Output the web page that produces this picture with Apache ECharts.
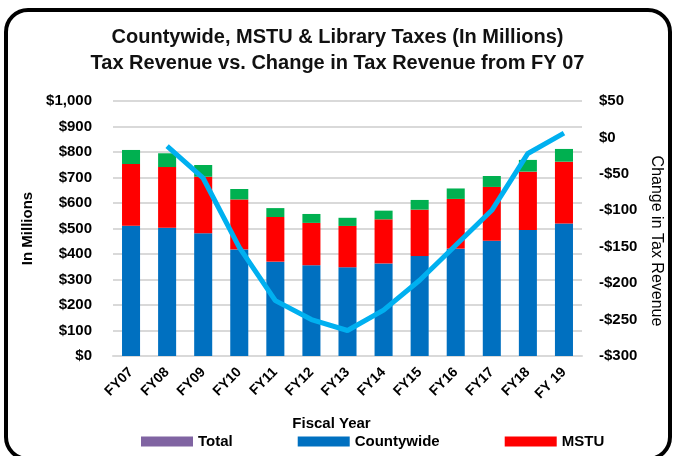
<!DOCTYPE html>
<html>
<head>
<meta charset="utf-8">
<script src="https://cdn.jsdelivr.net/npm/echarts@6/dist/echarts.min.js"></script>
<style>
  html, body { margin: 0; padding: 0; background: #fff; }
  #chart { width: 675px; height: 456px; }
</style>
</head>
<body>
<div id="chart"></div>
<script>
// fiscal years
const years = ['FY07', 'FY08', 'FY09', 'FY10', 'FY11', 'FY12', 'FY13', 'FY14', 'FY15', 'FY16', 'FY17', 'FY18', 'FY 19']
// tax revenue, millions
const countywide = [511, 503, 481, 418, 370, 356, 348, 363, 392, 421, 452, 494, 520]
const mstu = [242, 238, 222, 196, 175, 166, 162, 173, 182, 195, 211, 229, 242]
const library = [55, 54, 46, 41, 35, 35, 32, 34, 38, 41, 43, 46, 50]
// change in tax revenue from FY 07
const change = [null, -12, -56, -151, -224, -250, -265, -237, -196, -148, -100, -22, 6]

const font = "'Liberation Sans', Arial, sans-serif"
const chart = echarts.init(document.getElementById('chart'))

const option = {
  backgroundColor: '#fff',
  animation: false,
  textStyle: { fontFamily: font, color: '#000' },
  title: {
    text: 'Countywide, MSTU & Library Taxes (In Millions)\nTax Revenue vs. Change in Tax Revenue from FY 07',
    left: 'center',
    top: 19,
    textStyle: { fontFamily: font, fontSize: 20, fontWeight: 'bold', color: '#111', lineHeight: 26 }
  },
  graphic: [{
    type: 'rect',
    shape: { x: 6, y: 10, width: 664, height: 449, r: 22 },
    style: { fill: null, stroke: '#000', lineWidth: 4 },
    silent: true
  }],
  legend: {
    data: ['Total', 'Countywide', 'MSTU'],
    left: 136,
    top: 429,
    icon: 'rect',
    itemWidth: 52,
    itemHeight: 10,
    itemGap: 65,
    textStyle: { fontFamily: font, fontSize: 15, fontWeight: 'bold', color: '#000' }
  },
  grid: { left: 113, right: 93, top: 101, bottom: 100 },
  xAxis: {
    type: 'category',
    data: years,
    name: 'Fiscal Year',
    nameLocation: 'middle',
    nameGap: 60,
    nameTextStyle: { fontSize: 15, fontWeight: 'bold', color: '#000', padding: [0, 32, 0, 0] },
    axisLine: { lineStyle: { color: '#d9d9d9', width: 2 } },
    axisTick: { show: false },
    axisLabel: { interval: 0, rotate: 45, margin: 14, fontSize: 14, fontWeight: 'bold', color: '#000' }
  },
  yAxis: [{
    type: 'value',
    min: 0,
    max: 1000,
    interval: 100,
    name: 'In Millions',
    nameLocation: 'middle',
    nameGap: 78,
    nameTextStyle: { fontSize: 15, fontWeight: 'bold', color: '#000' },
    axisLine: { show: false },
    axisTick: { show: false },
    splitLine: { lineStyle: { color: '#d9d9d9', width: 2 } },
    axisLabel: {
      margin: 21, fontSize: 15, fontWeight: 'bold', color: '#000',
      formatter: v => '$' + v.toLocaleString('en-US')
    }
  }, {
    type: 'value',
    min: -300,
    max: 50,
    interval: 50,
    name: 'Change in Tax Revenue',
    nameLocation: 'middle',
    nameGap: 65,
    nameRotate: -90,
    nameTextStyle: { fontSize: 16, color: '#000', padding: [0, 0, 0, 25] },
    axisLine: { show: false },
    axisTick: { show: false },
    splitLine: { show: false },
    axisLabel: {
      margin: 17, fontSize: 15, fontWeight: 'bold', color: '#000',
      formatter: v => (v < 0 ? '-$' + (-v) : '$' + v)
    }
  }],
  series: [
    { name: 'Total', type: 'line', data: [], itemStyle: { color: '#8064A2' } },
    { name: 'Countywide', type: 'bar', stack: 'tax', barWidth: '50%', data: countywide, itemStyle: { color: '#0070C0' } },
    { name: 'MSTU', type: 'bar', stack: 'tax', data: mstu, itemStyle: { color: '#FF0000' } },
    { name: 'Library', type: 'bar', stack: 'tax', data: library, itemStyle: { color: '#00B050' } },
    {
      name: 'Change',
      type: 'line',
      yAxisIndex: 1,
      data: change,
      showSymbol: false,
      lineStyle: { color: '#00B0F0', width: 5 },
      itemStyle: { color: '#00B0F0' }
    }
  ]
}

chart.setOption(option)
</script>
</body>
</html>
